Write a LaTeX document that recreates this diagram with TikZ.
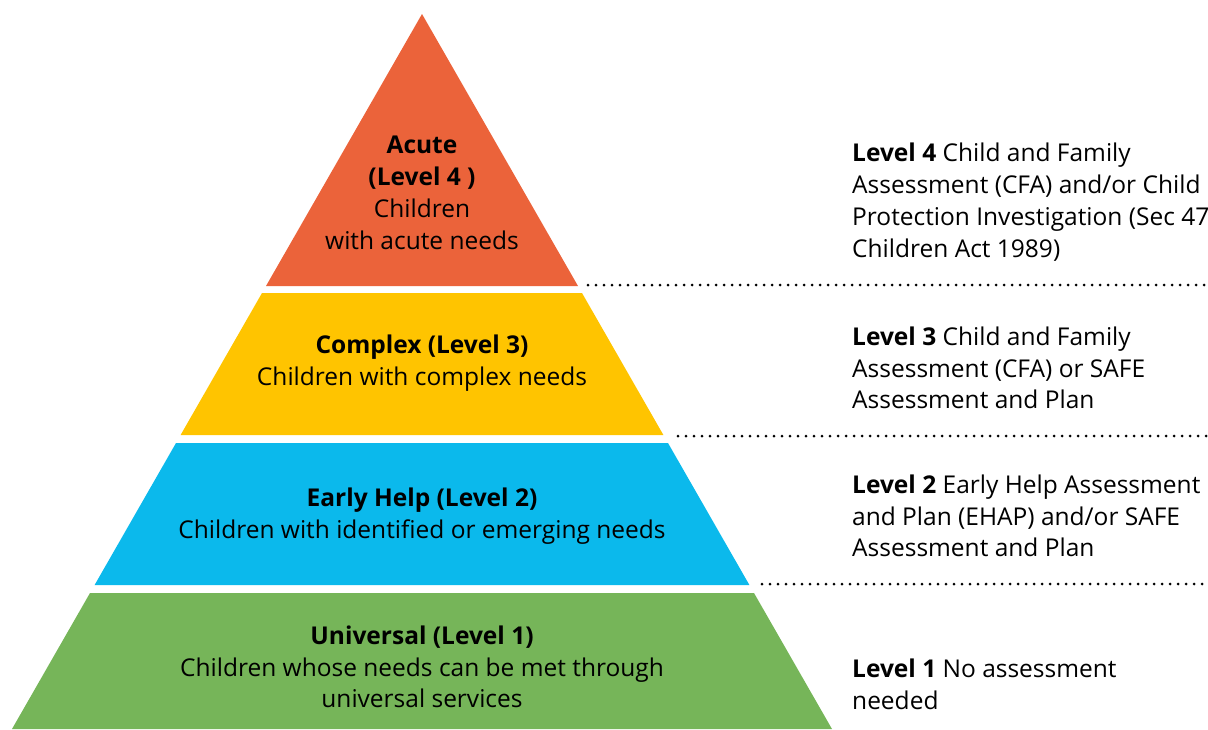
\documentclass[tikz,border=0pt]{standalone}
\usepackage{fontspec}
\setmainfont{Open Sans}

\definecolor{acute}{RGB}{235,99,58}
\definecolor{complex}{RGB}{255,196,0}
\definecolor{early}{RGB}{11,185,236}
\definecolor{universal}{RGB}{118,181,89}

\begin{document}
\begin{tikzpicture}[x=1pt, y=-1pt,
  every node/.style={font=\fontsize{24.5}{31.8}\selectfont, inner sep=0pt},
  band/.style={align=center},
  note/.style={align=left, anchor=west},
  sep/.style={line width=3pt, line cap=round, dash pattern=on 0pt off 8pt}]
  \useasboundingbox (0,0) rectangle (1208,729);
  % the four levels of the pyramid
  \fill[acute] (422,14) -- (578,286) -- (266,286) -- cycle;
  \fill[complex] (262,293) -- (582,293) -- (663.4,435) -- (180.6,435) -- cycle;
  \fill[early] (176,443) -- (668,443) -- (749.4,585) -- (94.6,585) -- cycle;
  \fill[universal] (90,593) -- (754,593) -- (832,729) -- (12,729) -- cycle;
  \node[band] (l4) at (422,193) {\textbf{Acute}\\\textbf{(Level 4 )}\\Children\\with acute needs};
  \node[band] (l3) at (422,363) {\textbf{Complex (Level 3)}\\Children with complex needs};
  \node[band] (l2) at (422,516) {\textbf{Early Help (Level 2)}\\Children with identified or emerging needs};
  \node[band] (l1) at (422,667) {\textbf{Universal (Level 1)}\\Children whose needs can be met through\\universal services};
  % assessments
  \node[note] (a4) at (852,202) {\textbf{Level 4} Child and Family\\Assessment (CFA) and/or Child\\Protection Investigation (Sec 47\\Children Act 1989)};
  \node[note] (a3) at (852,368) {\textbf{Level 3} Child and Family\\Assessment (CFA) or SAFE\\Assessment and Plan};
  \node[note] (a2) at (852,516) {\textbf{Level 2} Early Help Assessment\\and Plan (EHAP) and/or SAFE\\Assessment and Plan};
  \node[note] (a1) at (852,684) {\textbf{Level 1} No assessment\\needed};
  % dotted separators
  \coordinate (s4) at (588,285);
  \coordinate (e4) at (1208,285);
  \coordinate (s3) at (678,436);
  \coordinate (e3) at (1208,436);
  \coordinate (s2) at (762,584);
  \coordinate (e2) at (1208,584);
  \draw[sep] (s4) -- (e4);
  \draw[sep] (s3) -- (e3);
  \draw[sep] (s2) -- (e2);
\end{tikzpicture}
\end{document}
